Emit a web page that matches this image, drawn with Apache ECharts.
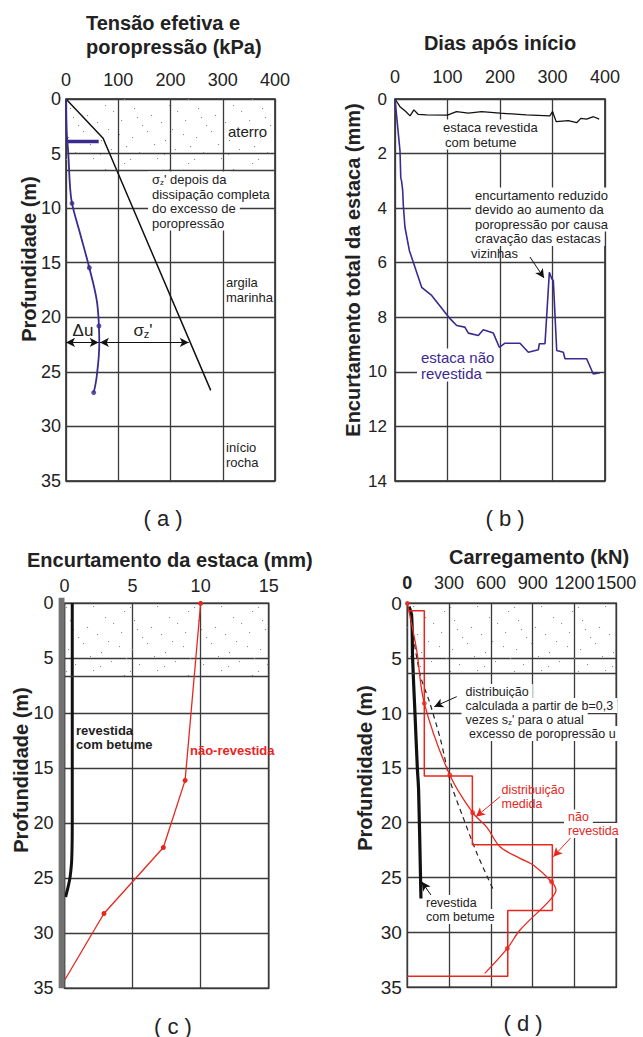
<!DOCTYPE html>
<html><head><meta charset="utf-8">
<script src="https://cdn.jsdelivr.net/npm/echarts@6/dist/echarts.min.js"></script>
<style>html,body{margin:0;padding:0;background:#fff}#c{width:643px;height:1037px}</style>
</head><body><div id="c"></div>
<script>
// ================= DATA =================
// Panel (a): effective stress / pore pressure (kPa) vs depth (m)
const aSigmaEff = [[0,0],[71,3.6],[277,26.7]];
const aExcessPore = [[0,0],[1.3,3],[4.4,5],[7.7,8],[11.5,9.56],[26.8,12.3],[44.6,15.46],[58.7,18.4],[63,20.8],[63.7,22.4],[58.7,25.45],[53,26.9]];
const aExcessPoreMarkers = [[11.5,9.56],[44.6,15.46],[63,20.8],[53,26.9]];
const aFillBar = [[0,3.9],[62.6,3.9]];
const aFillBase = 6.5;
const aDeltaUArrow = [[0,22.3],[62.5,22.3]];
const aSigmaArrow = [[65,22.3],[235,22.3]];

// Panel (b): total pile shortening (mm) vs days
const bCoated = [[0,0],[9.5,0.28],[20,0.45],[28.6,0.62],[36,0.4],[44,0.56],[60,0.58],[100,0.59],[117,0.46],[140,0.52],[165,0.46],[200,0.52],[250,0.58],[295,0.62],[300,0.46],[307,0.83],[330,0.79],[346,0.87],[354,0.71],[365,0.74],[378,0.65],[389,0.74]];
const bUncoated = [[0,0],[9.5,1.9],[11,2.9],[12.5,3.0],[14.6,3.35],[16,3.95],[19,4.7],[27.3,5.55],[50.8,6.9],[69.8,7.2],[104.8,8.05],[117.5,8.3],[133,8.36],[139.7,8.58],[158.7,8.67],[168.2,8.46],[187.3,8.58],[198.7,9.1],[209.5,8.95],[238,8.95],[254,9.28],[273,9.19],[275,8.97],[285.7,8.97],[294,6.35],[298.4,6.58],[301.6,6.66],[308,9.22],[320.6,9.28],[323.8,9.52],[365,9.52],[377.7,10.08],[390.5,10.03]];
const bArrow = [[257,5.79],[283.8,6.56]];

// Panel (c): pile shortening (mm) vs depth (m)
const cPile = [[-0.43,-0.5],[0,35]];   // pile body drawn at the left of the axis (corner points)
const cCoated = [[0.57,0],[0.57,20],[0.53,23.3],[0.42,24.8],[0.3,25.6],[0.08,26.7]];
const cUncoated = [[10,0],[8.86,16.1],[7.26,22.2],[2.9,28.2],[0.04,34.2]];
const cFillBase = 6.6;

// Panel (d): load (kN) vs depth (m)
const dCoated = [[12,0.3],[31,1.1],[38,5],[55,10],[72,15],[81,17],[98,26.9]];
const dCalculated = [[12,0.5],[90,6.4],[162,9.1],[240,12.5],[310,16.3],[400,19.5],[500,22.8],[620,26.2]];
const dStep = [[10,0.67],[122,0.67],[122,15.75],[467,15.75],[467,22],[1041,22],[1041,28],[721,28],[721,34],[0,34]];
const dMeasured = [[0,0],[67,4.25],[122,9.12],[305,15.65],[469,19.09],[570,20.4],[665,22.19],[809,23.25],[904,23.86],[1035,25.38],[1067,26.14],[1024,27.05],[809,29.78],[718,31.45],[556,33.73]];
const dMeasuredMarkers = [[0,0],[122,9.12],[305,15.65],[469,19.09],[1035,25.38],[718,31.45]];
const dFillBase = 6.35;
const dArrowCalc = [[354.6,8.51],[193.8,9.42]];
const dArrowMeasured = [[665.5,17.63],[493,19.45]];
const dArrowUncoated = [[1191.7,21.12],[1048,23.1]];
const dArrowCoated = [[186.6,26.89],[103.4,25.38]];

// ================= STYLE =================
const FONT = '"Liberation Sans", Arial, sans-serif';
const INK = '#222';
const GRIDC = '#3a3a3a';
const BLUE = '#3b2a8f';
const RED = '#e8261e';
// fixed stipple texture (styling only)
const dots = [[4,9],[19,3],[37,12],[55,6],[11,24],[29,30],[47,21],[60,35],[6,44],[23,51],[41,41],[57,56],[14,61],[33,58],[49,47],[2,31],[26,16],[44,1],[62,18],[9,53],[36,26]];
const tile = "<svg xmlns='http://www.w3.org/2000/svg' width='64' height='64'>" +
  dots.map(p => "<rect x='" + p[0] + "' y='" + p[1] + "' width='1.1' height='1.1' fill='#8a8a8a'/>").join('') + "</svg>";
const stipple = {image: 'data:image/svg+xml;charset=utf-8,' + encodeURIComponent(tile), repeat: 'repeat', imageWidth: 64, imageHeight: 64};

function grid(l, t, w, h) {
  return {left: l, top: t, width: w, height: h, show: true, borderColor: '#1a1a1a', borderWidth: 1.5, backgroundColor: 'transparent', outerBoundsMode: 'none', containLabel: false};
}
function xAx(gi, max, interval, margin, fmt) {
  return {gridIndex: gi, type: 'value', position: 'top', min: 0, max: max, interval: interval,
    axisLine: {show: false}, axisTick: {show: false},
    axisLabel: {fontSize: 18, color: INK, fontFamily: FONT, margin: margin, formatter: fmt,
      rich: {b: {fontWeight: 'bold', fontSize: 18, fontFamily: FONT, color: INK}}},
    splitLine: {show: true, lineStyle: {color: GRIDC, width: 1.3}}};
}
function yAx(gi, max, interval, margin, fs) {
  return {gridIndex: gi, type: 'value', inverse: true, min: 0, max: max, interval: interval,
    axisLine: {show: false}, axisTick: {show: false},
    axisLabel: {fontSize: fs || 18, color: INK, fontFamily: FONT, margin: margin},
    splitLine: {show: true, lineStyle: {color: GRIDC, width: 1.3}}};
}
function arrowLine(arr, color, both) {
  return [{coord: arr[0], symbol: both ? 'arrow' : 'none', lineStyle: {color: color, width: 1, type: 'solid'}},
          {coord: arr[1], symbol: 'arrow'}];
}
function layerLine(y, xmax) {
  return [{coord: [0, y], symbol: 'none', lineStyle: {color: GRIDC, width: 1.3, type: 'solid'}}, {coord: [xmax, y], symbol: 'none'}];
}

function T(x, y, text, o) {
  return {type: 'text', x: x, y: y, z: 100, silent: true,
    style: Object.assign({text: text, fontFamily: FONT, fontSize: 13, fill: INK, align: 'left', verticalAlign: 'middle'}, o || {})};
}
const WB = {backgroundColor: '#fff', padding: [1, 4]};
const subRich = (fs) => ({n: {fontSize: fs, fontFamily: FONT, fill: INK, color: INK}, s: {fontSize: Math.round(fs * 0.65), fontFamily: FONT, padding: [Math.round(fs * 0.45), 0, 0, 0], color: INK, fill: INK}});
function vText(x, y, text) {
  return {type: 'text', x: x, y: y, rotation: Math.PI / 2, z: 100, silent: true,
    style: {text: text, fontFamily: FONT, fontSize: 20, fontWeight: 'bold', fill: INK, align: 'center', verticalAlign: 'middle'}};
}

const graphics = [
  // Panel (a)
  T(86, 23, 'Tensão efetiva e', {fontSize: 20, fontWeight: 'bold'}),
  T(86, 47, 'poropressão (kPa)', {fontSize: 20, fontWeight: 'bold'}),
  vText(28.5, 259, 'Profundidade (m)'),
  T(228, 131.5, 'aterro', {fontSize: 15}),
  T(148, 179.5, "{n|σ}{s|z}{n|' depois da}", Object.assign({rich: subRich(13)}, WB)),
  T(148, 194, 'dissipação completa', WB),
  T(148, 208.5, 'do excesso de', WB),
  T(148, 223, 'poropressão', WB),
  T(226, 282.5, 'argila', {}),
  T(226, 297.5, 'marinha', {}),
  T(226, 447.5, 'início', {}),
  T(226, 462.5, 'rocha', {}),
  T(83, 330, 'Δu', {fontSize: 17, align: 'center'}),
  T(143, 330, "{n|σ}{s|z}{n|'}", {rich: subRich(17), align: 'center'}),
  T(163, 518, '( a )', {fontSize: 22, align: 'center'}),
  // Panel (b)
  T(500, 43, 'Dias após início', {fontSize: 20, fontWeight: 'bold', align: 'center'}),
  vText(352.5, 270, 'Encurtamento total da estaca (mm)'),
  T(439, 127, 'estaca revestida', WB),
  T(441, 142, 'com betume', WB),
  T(471, 195, 'encurtamento reduzido', WB),
  T(471, 209.5, 'devido ao aumento da', WB),
  T(471, 224, 'poropressão por causa', WB),
  T(471, 238.5, 'cravação das estacas', WB),
  T(471, 253, 'vizinhas', {}),
  T(417, 357, 'estaca não', Object.assign({fontSize: 15, fill: BLUE}, WB)),
  T(417, 373, 'revestida', Object.assign({fontSize: 15, fill: BLUE}, WB)),
  T(505, 518, '( b )', {fontSize: 22, align: 'center'}),
  // Panel (c)
  T(27, 560, 'Encurtamento da estaca (mm)', {fontSize: 20, fontWeight: 'bold'}),
  vText(21, 770, 'Profundidade (m)'),
  T(76, 730.5, 'revestida', {fontWeight: 'bold'}),
  T(76, 744.5, 'com betume', {fontWeight: 'bold'}),
  T(190, 750.5, 'não-revestida', {fontWeight: 'bold', fill: RED}),
  T(173, 1026, '( c )', {fontSize: 22, align: 'center'}),
  // Panel (d)
  T(449, 557, 'Carregamento (kN)', {fontSize: 20, fontWeight: 'bold'}),
  vText(365, 768, 'Profundidade (m)'),
  T(461.5, 691.5, 'distribuição', Object.assign({fontSize: 12.5}, WB)),
  T(461.5, 705.5, 'calculada a partir de b=0,3', Object.assign({fontSize: 12.5}, WB)),
  T(461.5, 719.5, "{n|vezes s}{s|z}{n|' para o atual}", Object.assign({fontSize: 12.5, rich: subRich(12.5)}, WB)),
  T(465, 733.5, 'excesso de poropressão u', Object.assign({fontSize: 12.5}, WB)),
  T(501.5, 790, 'distribuição', {fontSize: 12.5, fill: RED}),
  T(501.5, 804, 'medida', {fontSize: 12.5, fill: RED}),
  T(564, 817, 'não', Object.assign({fontSize: 12.5, fill: RED}, WB)),
  T(564, 830.5, 'revestida', Object.assign({fontSize: 12.5, fill: RED}, WB)),
  T(424, 902.5, 'revestida', {fontSize: 12.5, backgroundColor: '#fff', padding: [1, 2]}),
  T(424, 916.5, 'com betume', {fontSize: 12.5, backgroundColor: '#fff', padding: [1, 2]}),
  T(523, 1023, '( d )', {fontSize: 22, align: 'center'})
];

const option = {
  animation: false,
  backgroundColor: '#fff',
  textStyle: {fontFamily: FONT},
  grid: [grid(66, 99, 209, 382), grid(395, 99, 210, 382), grid(64.5, 603.3, 204.2, 385), grid(407.3, 603.3, 209, 384)],
  xAxis: [xAx(0, 400, 100, 10), xAx(1, 400, 100, 13), xAx(2, 15, 5, 8), xAx(3, 1500, 300, 11, v => v === 0 ? '{b|0}' : String(v))],
  yAxis: [yAx(0, 35, 5, 5), yAx(1, 14, 2, 8, 17), yAx(2, 35, 5, 11), yAx(3, 35, 5, 5.5, 19)],
  series: [
    // ---- (a)
    {type: 'line', xAxisIndex: 0, yAxisIndex: 0, data: aSigmaEff, showSymbol: false, z: 3,
      lineStyle: {color: '#111', width: 1.5},
      markArea: {silent: true, itemStyle: {color: stipple}, data: [[{coord: [0, 0]}, {coord: [400, aFillBase]}]]},
      markLine: {silent: true, symbol: 'none', label: {show: false}, emphasis: {disabled: true}, data: [layerLine(aFillBase, 400)]}},
    {type: 'line', xAxisIndex: 0, yAxisIndex: 0, data: aExcessPore, smooth: 0.4, showSymbol: false, z: 4,
      lineStyle: {color: BLUE, width: 1.8},
      markLine: {silent: true, symbolSize: [7, 9], label: {show: false}, emphasis: {disabled: true},
        data: [arrowLine(aDeltaUArrow, '#111', true), arrowLine(aSigmaArrow, '#111', true)]}},
    {type: 'scatter', xAxisIndex: 0, yAxisIndex: 0, data: aExcessPoreMarkers, symbolSize: 5, itemStyle: {color: BLUE}, z: 5},
    {type: 'line', xAxisIndex: 0, yAxisIndex: 0, data: aFillBar, showSymbol: false, lineStyle: {color: BLUE, width: 3.5}, z: 5},
    // ---- (b)
    {type: 'line', xAxisIndex: 1, yAxisIndex: 1, data: bCoated, showSymbol: false, lineStyle: {color: '#111', width: 1.3}, z: 3},
    {type: 'line', xAxisIndex: 1, yAxisIndex: 1, data: bUncoated, showSymbol: false, lineStyle: {color: BLUE, width: 1.6}, z: 4,
      markLine: {silent: true, symbolSize: [7, 9], label: {show: false}, emphasis: {disabled: true}, data: [arrowLine(bArrow, '#111', false)]}},
    // ---- (c)
    {type: 'line', xAxisIndex: 2, yAxisIndex: 2, data: cCoated, showSymbol: false, smooth: 0.3, lineStyle: {color: '#111', width: 3}, z: 4,
      markArea: {silent: true, itemStyle: {color: stipple}, data: [[{coord: [0, 0]}, {coord: [15, cFillBase]}]]},
      markLine: {silent: true, symbol: 'none', label: {show: false}, emphasis: {disabled: true}, data: [layerLine(cFillBase, 15)]}},
    {type: 'line', xAxisIndex: 2, yAxisIndex: 2, data: cUncoated, symbol: 'circle', symbolSize: (v, p) => p.dataIndex === cUncoated.length - 1 ? 0 : 5,
      showSymbol: true, lineStyle: {color: RED, width: 1.3}, itemStyle: {color: RED}, z: 5},
    // ---- (d)
    {type: 'line', xAxisIndex: 3, yAxisIndex: 3, data: dCoated, showSymbol: false, smooth: 0.3, lineStyle: {color: '#111', width: 3.2}, z: 4,
      markArea: {silent: true, itemStyle: {color: stipple}, data: [[{coord: [0, 0]}, {coord: [1500, dFillBase]}]]},
      markLine: {silent: true, symbolSize: [7, 9], label: {show: false}, emphasis: {disabled: true},
        data: [layerLine(dFillBase, 1500), arrowLine(dArrowCalc, '#111', false), arrowLine(dArrowCoated, '#111', false)]}},
    {type: 'line', xAxisIndex: 3, yAxisIndex: 3, data: dCalculated, showSymbol: false, smooth: 0.3, lineStyle: {color: '#222', width: 1.2, type: [5, 4]}, z: 3},
    {type: 'line', xAxisIndex: 3, yAxisIndex: 3, data: dStep, showSymbol: false, lineStyle: {color: RED, width: 1.5}, z: 4},
    {type: 'line', xAxisIndex: 3, yAxisIndex: 3, data: dMeasured, showSymbol: false, smooth: 0.35, lineStyle: {color: RED, width: 1.3}, z: 5,
      markLine: {silent: true, symbolSize: [7, 9], label: {show: false}, emphasis: {disabled: true},
        data: [arrowLine(dArrowMeasured, RED, false), arrowLine(dArrowUncoated, RED, false)]}},
    {type: 'scatter', xAxisIndex: 3, yAxisIndex: 3, data: dMeasuredMarkers, symbolSize: 5, itemStyle: {color: RED}, z: 6, clip: false}
  ],
  graphic: graphics
};

const chart = echarts.init(document.getElementById('c'), null, {renderer: 'svg', width: 643, height: 1037});
chart.setOption(option);
// pile body in panel (c): placed through the panel's own scales
const p0 = chart.convertToPixel({gridIndex: 2}, cPile[0]);
const p1 = chart.convertToPixel({gridIndex: 2}, cPile[1]);
chart.setOption({graphic: graphics.concat([{type: 'rect', z: 50, silent: true,
  shape: {x: Math.min(p0[0], p1[0]), y: Math.min(p0[1], p1[1]), width: Math.abs(p1[0] - p0[0]), height: Math.abs(p1[1] - p0[1])},
  style: {fill: '#727272'}}])});
</script>
</body></html>
